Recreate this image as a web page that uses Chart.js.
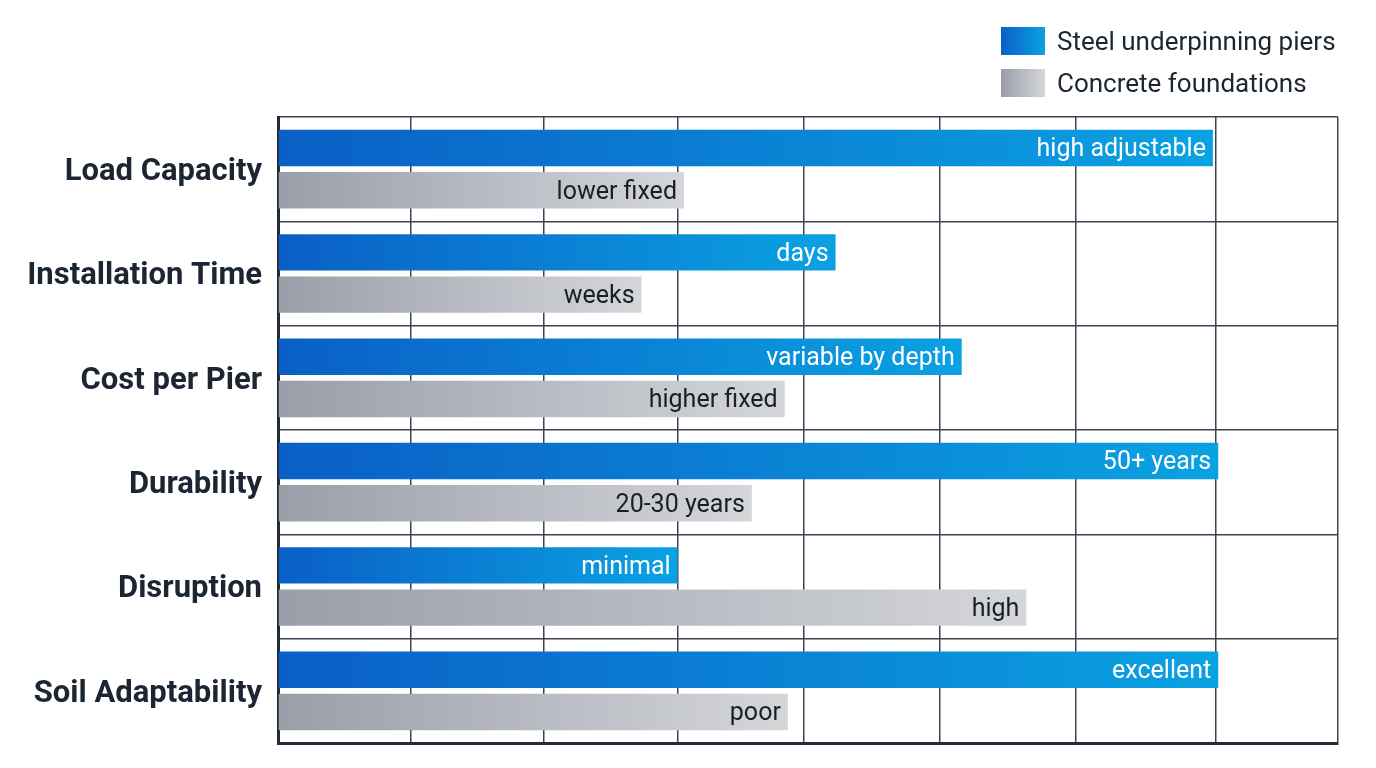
<!DOCTYPE html>
<html>
<head>
<meta charset="utf-8">
<script src="https://cdn.jsdelivr.net/npm/chart.js@4"></script>
<style>
  html, body { margin: 0; padding: 0; background: #ffffff; }
  #wrap { position: relative; width: 1376px; height: 768px; }
  canvas { position: absolute; left: 0; top: 0; }
  .legend { position: absolute; left: 1001px; font-family: Roboto, "Noto Sans", sans-serif; font-size: 26px; color: #1c2633; display: flex; align-items: center; }
  .legend .box { width: 44px; height: 28px; margin-right: 12px; }
</style>
</head>
<body>
<div id="wrap">
  <canvas id="c" width="1376" height="768"></canvas>
  <div class="legend" style="top:26px;"><div class="box" style="background:linear-gradient(90deg,#0a5fc6,#0aa2e2);"></div><span>Steel underpinning piers</span></div>
  <div class="legend" style="top:68px;"><div class="box" style="background:linear-gradient(90deg,#9a9ea8,#d4d6da);"></div><span>Concrete foundations</span></div>
</div>
<script>
const categories = ["Load Capacity", "Installation Time", "Cost per Pier", "Durability", "Disruption", "Soil Adaptability"];
const seriesNames = ["Steel underpinning piers", "Concrete foundations"];
const steelValues = [88.2, 52.6, 64.5, 88.7, 37.7, 88.7];
const concreteValues = [38.3, 34.3, 47.8, 44.7, 70.6, 48.1];
const steelLabels = ["high adjustable", "days", "variable by depth", "50+ years", "minimal", "excellent"];
const concreteLabels = ["lower fixed", "weeks", "higher fixed", "20-30 years", "high", "poor"];
const gridTicks = [0, 12.55, 25.1, 37.7, 49.6, 62.4, 75.3, 88.5, 100];

function barGradient(ctx, c0, c1) {
  const chart = ctx.chart;
  const xs = chart.scales && chart.scales.x;
  if (!xs || ctx.type !== 'data' || xs.width === 0) return c0;
  const x0 = xs.getPixelForValue(0);
  const x1 = xs.getPixelForValue(ctx.raw);
  if (!isFinite(x0) || !isFinite(x1) || x1 <= x0) return c0;
  const g = chart.ctx.createLinearGradient(x0, 0, x1, 0);
  g.addColorStop(0, c0);
  g.addColorStop(1, c1);
  return g;
}

const labelPlugin = {
  id: 'barLabels',
  afterDatasetsDraw(chart) {
    const ctx = chart.ctx;
    const sets = [[steelLabels, '#ffffff'], [concreteLabels, '#1a1f27']];
    ctx.save();
    ctx.font = '25px Roboto, "Noto Sans", sans-serif';
    ctx.textAlign = 'right';
    ctx.textBaseline = 'middle';
    sets.forEach((s, di) => {
      const meta = chart.getDatasetMeta(di);
      meta.data.forEach((bar, i) => {
        ctx.fillStyle = s[1];
        ctx.fillText(s[0][i], bar.x - 7, bar.y + 2);
      });
    });
    ctx.restore();
  }
};

new Chart(document.getElementById('c'), {
  type: 'bar',
  data: {
    labels: categories,
    datasets: [
      {
        label: seriesNames[0],
        data: steelValues,
        backgroundColor: (ctx) => barGradient(ctx, '#0a5fc6', '#0aa2e2'),
        barPercentage: 0.86,
        categoryPercentage: 0.81
      },
      {
        label: seriesNames[1],
        data: concreteValues,
        backgroundColor: (ctx) => barGradient(ctx, '#9a9ea8', '#d4d6da'),
        barPercentage: 0.86,
        categoryPercentage: 0.81
      }
    ]
  },
  options: {
    indexAxis: 'y',
    responsive: false,
    animation: false,
    layout: { padding: { top: 117, right: 38, bottom: 0, left: 0 } },
    plugins: {
      legend: { display: false },
      tooltip: { enabled: false }
    },
    scales: {
      x: {
        min: 0,
        max: 100,
        afterBuildTicks: (scale) => { scale.ticks = gridTicks.map(v => ({ value: v })); },
        afterFit: (scale) => { scale.height = 25; scale.paddingLeft = 0; scale.paddingRight = 0; },
        ticks: { display: false },
        grid: { color: '#3b4452', lineWidth: 1.5, drawTicks: false },
        border: { display: true, color: '#222b36', width: 3 }
      },
      y: {
        afterFit: (scale) => { scale.width = 278; scale.paddingTop = 0; scale.paddingBottom = 0; },
        ticks: {
          color: '#1c2633',
          padding: 16,
          labelOffset: 3,
          font: { family: 'Roboto, "Noto Sans", sans-serif', size: 31, weight: 'bold' }
        },
        grid: { color: '#3b4452', lineWidth: 1.5, drawTicks: false, offset: true },
        border: { display: true, color: '#222b36', width: 3 }
      }
    }
  },
  plugins: [labelPlugin]
});
</script>
</body>
</html>
